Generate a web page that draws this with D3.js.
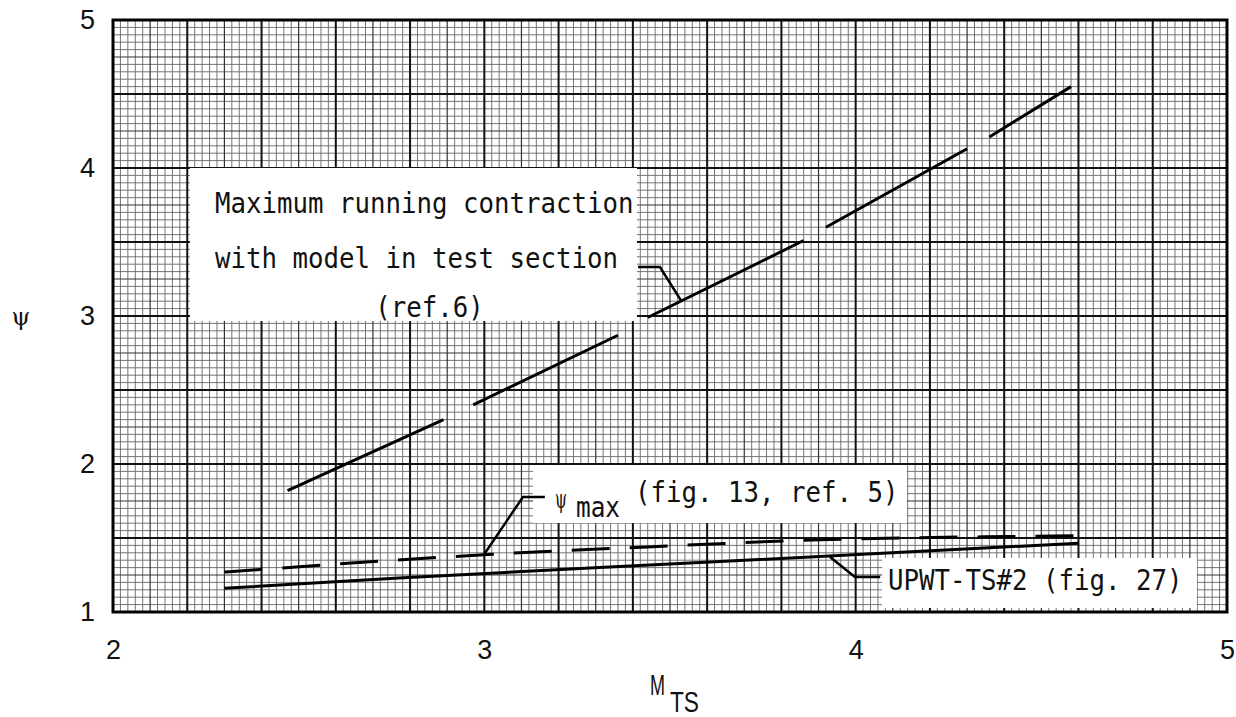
<!DOCTYPE html>
<html>
<head>
<meta charset="utf-8">
<script src="https://cdn.jsdelivr.net/npm/d3@7"></script>
<style>
  html, body { margin: 0; padding: 0; background: #fff; }
  svg { display: block; }
</style>
</head>
<body>
<svg id="chart" width="1236" height="717"></svg>
<script>
// ---------------- data ----------------
const xTickValues = [2, 3, 4, 5];
const yTickValues = [1, 2, 3, 4, 5];
const xTitle = "M";
const xTitleSub = "TS";
const yTitle = "ψ";

// Maximum running contraction (ref. 6) – solid line drawn in pieces
const contractionSegments = [
  [[2.47, 1.82], [2.89, 2.30]],
  [[2.97, 2.40], [3.36, 2.87]],
  [[3.44, 2.99], [3.86, 3.51]],
  [[3.92, 3.60], [4.30, 4.13]],
  [[4.36, 4.21], [4.58, 4.55]]
];

// psi_max (fig. 13, ref. 5) – dashed
const psiMaxM   = [2.30, 2.73, 3.02, 3.44, 3.93, 4.41, 4.60];
const psiMaxPsi = [1.27, 1.345, 1.39, 1.44, 1.49, 1.51, 1.515];

// UPWT-TS#2 (fig. 27) – solid
const upwtM   = [2.30, 2.77, 3.31, 3.98, 4.60];
const upwtPsi = [1.16, 1.23, 1.30, 1.385, 1.465];

const labelContraction = ["Maximum running contraction", "with model in test section", "(ref.6)"];
const labelPsiMax = ["ψ", "max", "(fig. 13, ref. 5)"];
const labelUpwt = "UPWT-TS#2 (fig. 27)";

// ---------------- layout ----------------
const svg = d3.select("#chart");
const plotLeft = 113, plotRight = 1227, plotTop = 20, plotBottom = 612;
const x = d3.scaleLinear().domain([2, 5]).range([plotLeft, plotRight]);
const y = d3.scaleLinear().domain([1, 5]).range([plotBottom, plotTop]);

const monoFont = "'DejaVu Sans Mono', 'Liberation Mono', monospace";
const sansFont = "'Liberation Sans', Arial, sans-serif";
const charW = 15.5;

// ---------------- graph-paper grid ----------------
const grid = svg.append("g");
const xGrid = d3.range(0, 151).map(i => ({ v: 2 + i * 0.02, k: i % 10 === 0 ? 2 : (i % 5 === 0 ? 1 : 0) }));
const yGrid = d3.range(0, 81).map(i => ({ v: 1 + i * 0.05, k: i % 10 === 0 ? 2 : (i % 5 === 0 ? 1 : 0) }));
const gStroke = [ "#666", "#333", "#111" ];
const gWidth = [ 0.9, 1.2, 2.0 ];

[0, 1, 2].forEach(level => {
  grid.selectAll(null).data(xGrid.filter(d => d.k === level)).enter().append("line")
    .attr("x1", d => x(d.v)).attr("x2", d => x(d.v))
    .attr("y1", y(1)).attr("y2", y(5))
    .attr("stroke", gStroke[level]).attr("stroke-width", gWidth[level]);
  grid.selectAll(null).data(yGrid.filter(d => d.k === level)).enter().append("line")
    .attr("y1", d => y(d.v)).attr("y2", d => y(d.v))
    .attr("x1", x(2)).attr("x2", x(5))
    .attr("stroke", gStroke[level]).attr("stroke-width", gWidth[level]);
});

// frame
svg.append("rect")
  .attr("x", x(2)).attr("y", y(5))
  .attr("width", x(5) - x(2)).attr("height", y(1) - y(5))
  .attr("fill", "none").attr("stroke", "#000").attr("stroke-width", 3);

// ---------------- axes ----------------
const xAxis = svg.append("g").attr("transform", `translate(0,${plotBottom})`)
  .call(d3.axisBottom(x).tickValues(xTickValues).tickSize(0).tickPadding(28).tickFormat(d3.format("d")));
xAxis.select(".domain").remove();
xAxis.selectAll("text").attr("font-family", sansFont).attr("font-size", 27).attr("fill", "#111");

const yAxis = svg.append("g").attr("transform", `translate(${plotLeft},0)`)
  .call(d3.axisLeft(y).tickValues(yTickValues).tickSize(0).tickPadding(18).tickFormat(d3.format("d")));
yAxis.select(".domain").remove();
yAxis.selectAll("text").attr("font-family", sansFont).attr("font-size", 27).attr("fill", "#111");

// axis titles (main letter + subscript as separate, non-overlapping texts)
svg.append("text").attr("x", 650).attr("y", 695)
  .attr("font-family", sansFont).attr("font-size", 29).attr("fill", "#111")
  .attr("textLength", 15).attr("lengthAdjust", "spacingAndGlyphs").text(xTitle);
svg.append("text").attr("x", 670).attr("y", 712)
  .attr("font-family", sansFont).attr("font-size", 29).attr("fill", "#111")
  .attr("textLength", 29).attr("lengthAdjust", "spacingAndGlyphs").text(xTitleSub);

svg.append("text").attr("x", 21).attr("y", 325).attr("text-anchor", "middle")
  .attr("font-family", "'DejaVu Serif', serif").attr("font-size", 24).attr("fill", "#111").text(yTitle);

// ---------------- white label boxes ----------------
const boxes = [
  { x0: 2.207, x1: 3.411, y0: 2.966, y1: 4.0 },
  { x0: 3.131, x1: 4.138, y0: 1.601, y1: 1.993 },
  { x0: 4.071, x1: 4.919, y0: 1.027, y1: 1.365 }
];
svg.selectAll(".box").data(boxes).enter().append("rect")
  .attr("x", d => x(d.x0)).attr("y", d => y(d.y1))
  .attr("width", d => x(d.x1) - x(d.x0)).attr("height", d => y(d.y0) - y(d.y1))
  .attr("fill", "#fff");

// ---------------- curves ----------------
const line = d3.line().x(d => x(d[0])).y(d => y(d[1]));
const smooth = d3.line().x(d => x(d[0])).y(d => y(d[1])).curve(d3.curveMonotoneX);

svg.selectAll(".contr").data(contractionSegments).enter().append("path")
  .attr("d", line).attr("fill", "none").attr("stroke", "#000").attr("stroke-width", 3);

svg.append("path").datum(psiMaxM.map((m, i) => [m, psiMaxPsi[i]]))
  .attr("d", smooth).attr("fill", "none").attr("stroke", "#000").attr("stroke-width", 3)
  .attr("stroke-dasharray", "38,20");

svg.append("path").datum(upwtM.map((m, i) => [m, upwtPsi[i]]))
  .attr("d", smooth).attr("fill", "none").attr("stroke", "#000").attr("stroke-width", 3);

// ---------------- leaders ----------------
const leaders = [
  [[3.532, 3.095], [3.473, 3.331], [3.414, 3.331]],
  [[3.002, 1.399], [3.104, 1.777], [3.163, 1.777]],
  [[3.931, 1.372], [3.998, 1.236], [4.066, 1.236]]
];
svg.selectAll(".lead").data(leaders).enter().append("path")
  .attr("d", line).attr("fill", "none").attr("stroke", "#000").attr("stroke-width", 2.5);

// ---------------- annotation text ----------------
function mono(txt, px, py, w) {
  return svg.append("text").attr("x", px).attr("y", py)
    .attr("font-family", monoFont).attr("font-size", 29).attr("fill", "#111")
    .attr("textLength", w || txt.length * charW).attr("lengthAdjust", "spacingAndGlyphs")
    .text(txt);
}
mono(labelContraction[0], x(2.275), y(3.696));
mono(labelContraction[1], x(2.275), y(3.324));
mono(labelContraction[2], x(2.706), y(2.993));

svg.append("text").attr("x", x(3.190)).attr("y", y(1.703))
  .attr("font-family", "'DejaVu Serif', serif").attr("font-size", 26).attr("fill", "#111")
  .attr("textLength", 12).attr("lengthAdjust", "spacingAndGlyphs").text(labelPsiMax[0]);
mono(labelPsiMax[1], x(3.247), y(1.64), 44);
mono(labelPsiMax[2], x(3.406), y(1.743));

mono(labelUpwt, x(4.087), y(1.149));
</script>
</body>
</html>
